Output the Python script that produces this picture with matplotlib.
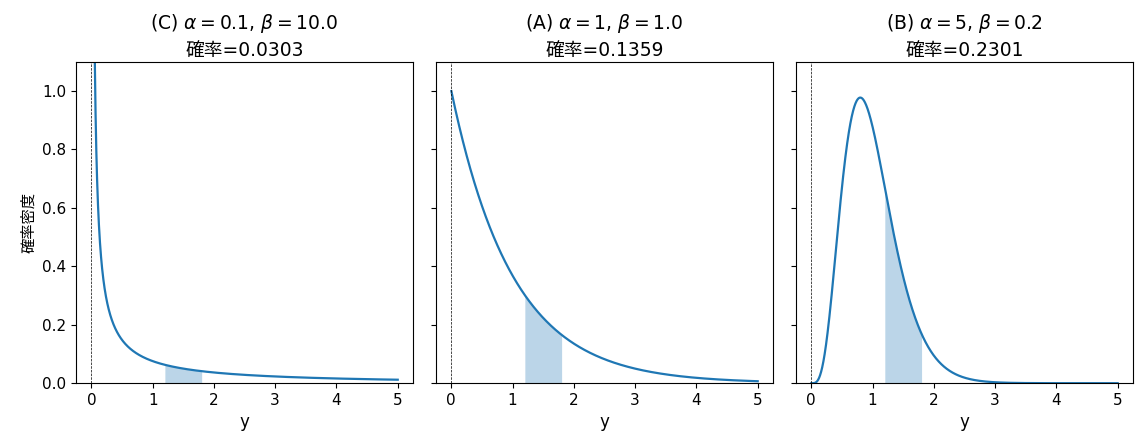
import math
import numpy as np
import matplotlib
matplotlib.use("Agg")
import matplotlib.pyplot as plt

plt.rcParams['font.family'] = ['DejaVu Sans', 'Noto Sans CJK JP']

labels = ["(C)", "(A)", "(B)"]
alphas = [0.1, 1, 5]
betas = [10.0, 1.0, 0.2]
alpha_txt = ["0.1", "1", "5"]
beta_txt = ["10.0", "1.0", "0.2"]
probs = ["0.0303", "0.1359", "0.2301"]
interval = (1.2, 1.8)
x_range = (0.001, 5.0)


def gamma_pdf(x, a, b):
    return x ** (a - 1) * np.exp(-x / b) / (math.gamma(a) * b ** a)


fig, axes = plt.subplots(1, 3, figsize=(11.45, 4.43), dpi=100, sharey=True)
fig.subplots_adjust(left=0.0664, right=0.9895, top=0.861, bottom=0.135, wspace=0.068)

x = np.linspace(x_range[0], x_range[1], 2000)
xs = np.linspace(interval[0], interval[1], 300)
for ax, lab, a, b, at, bt, p in zip(axes, labels, alphas, betas, alpha_txt, beta_txt, probs):
    ax.plot(x, gamma_pdf(x, a, b), color='tab:blue', lw=1.6)
    ax.fill_between(xs, 0, gamma_pdf(xs, a, b), color='tab:blue', alpha=0.3, lw=0)
    ax.axvline(0, color='black', ls='--', lw=0.5)
    ax.set_title(f"{lab} $\\alpha = {at}$, $\\beta = {bt}$\n確率={p}", fontsize=13.5,
                 pad=4, linespacing=1.4)
    ax.set_xlabel("y", fontsize=12)
    ax.set_xlim(-0.25, 5.25)
    ax.set_xticks([0, 1, 2, 3, 4, 5])
    ax.tick_params(labelsize=11)
axes[0].set_ylim(0, 1.1)
axes[0].set_ylabel("確率密度", fontsize=11)

fig.savefig("out.png", dpi=100)
